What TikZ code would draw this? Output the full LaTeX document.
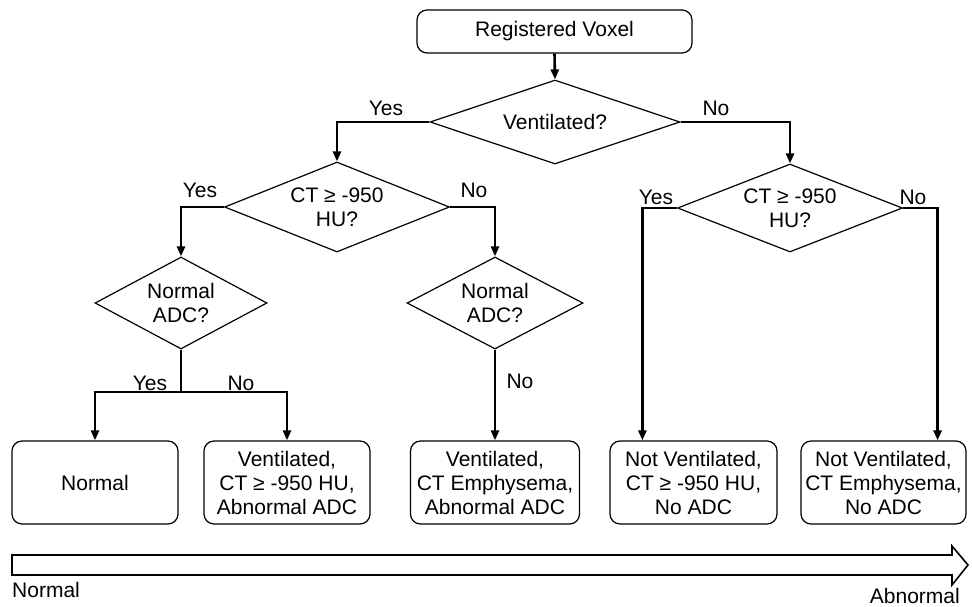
\documentclass[tikz,border=0pt]{standalone}
\usepackage{fontspec}
\setmainfont{Liberation Sans}
\usetikzlibrary{shapes.geometric,arrows.meta}
\begin{document}
\begin{tikzpicture}[x=1pt,y=-1pt,
  font=\fontsize{21}{24}\selectfont,
  box/.style={draw, rounded corners=10pt, line width=1.2pt, align=center, inner sep=0pt},
  dia/.style={draw, diamond, line width=1.2pt, align=center, inner sep=0pt},
  conn/.style={line width=2.6pt, -{Triangle[length=10pt,width=8pt]}},
  lbl/.style={inner sep=0pt}]
\useasboundingbox (0,0) rectangle (972,606);
% nodes
\node[box, minimum width=275pt, minimum height=43pt] (top) at (554.5,31.5) {Registered Voxel};
\node[dia, minimum width=250pt, minimum height=84pt, aspect=3] (d1) at (555,122) {Ventilated?};
\node[dia, minimum width=225pt, minimum height=90pt, aspect=2.5] (d2) at (337,207) {CT ≥ -950\\HU?};
\node[dia, minimum width=225pt, minimum height=88pt, aspect=2.5] (d3) at (790,208) {CT ≥ -950\\HU?};
\node[dia, minimum width=172pt, minimum height=92pt, aspect=1.9] (d4) at (181,303) {Normal\\ADC?};
\node[dia, minimum width=176pt, minimum height=92pt, aspect=1.9] (d5) at (495,303) {Normal\\ADC?};
\node[box, minimum width=166pt, minimum height=83pt] (b1) at (95,482.5) {Normal};
\node[box, minimum width=166pt, minimum height=83pt] (b2) at (287,482.5) {Ventilated,\\CT ≥ -950 HU,\\Abnormal ADC};
\node[box, minimum width=169pt, minimum height=83pt] (b3) at (495,482.5) {Ventilated,\\CT Emphysema,\\Abnormal ADC};
\node[box, minimum width=167pt, minimum height=83pt] (b4) at (693.5,482.5) {Not Ventilated,\\CT ≥ -950 HU,\\No ADC};
\node[box, minimum width=165pt, minimum height=83pt] (b5) at (883.5,482.5) {Not Ventilated,\\CT Emphysema,\\No ADC};
\coordinate (s1) at (181,392);
% connectors
\draw[conn] (top.south) -- (d1.north);
\draw[conn] (d1.west) -| (d2.north);
\draw[conn] (d1.east) -| (d3.north);
\draw[conn] (d2.west) -| (d4.north);
\draw[conn] (d2.east) -| (d5.north);
\draw[conn] (d3.west) -| ([xshift=33pt]b4.north west);
\draw[conn] (d3.east) -| ([xshift=-29pt]b5.north east);
\draw[line width=2.6pt] (d4.south) -- (s1);
\draw[conn] (s1) -| (b1.north);
\draw[conn] (s1) -| (b2.north);
\draw[conn] (d5.south) -- (b3.north);
% labels
\node[lbl] (l1) at (386,108) {Yes};
\node[lbl] (l2) at (716,108) {No};
\node[lbl] (l3) at (200,190) {Yes};
\node[lbl] (l4) at (474,190) {No};
\node[lbl] (l5) at (656,197) {Yes};
\node[lbl] (l6) at (913,197) {No};
\node[lbl] (l7) at (150,383) {Yes};
\node[lbl] (l8) at (241,383) {No};
\node[lbl] (l9) at (520,381) {No};
% scale arrow
\draw[line width=1.6pt, line join=miter] (12,555) -- (952,555) -- (952,546) -- (968,565) -- (952,585) -- (952,575) -- (12,575) -- cycle;
\node[lbl, anchor=base west] (nl) at (12,597) {Normal};
\node[lbl, anchor=base east] (al) at (960,603) {Abnormal};
\end{tikzpicture}
\end{document}
